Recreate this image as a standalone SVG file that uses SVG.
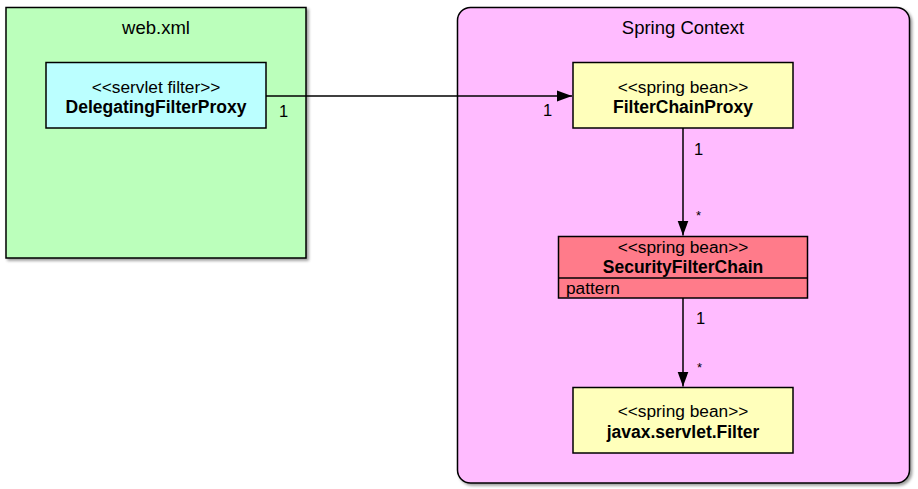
<svg xmlns="http://www.w3.org/2000/svg" width="918" height="489" viewBox="0 0 918 489">
<style>
text{font-family:"Liberation Sans",Arial,sans-serif;fill:#000}
.title{font-size:18.5px;text-anchor:middle}
.st{font-size:17.3px;text-anchor:middle}
.nm{font-size:17.5px;font-weight:bold;text-anchor:middle}
.lbl{font-size:16.5px}
.star{font-size:13px}
.box{stroke:#000;stroke-width:1.5}
.edge{stroke:#000;stroke-width:1.5;fill:none}
</style>
<defs>
<filter id="sh" x="-5%" y="-5%" width="115%" height="115%">
<feGaussianBlur in="SourceAlpha" stdDeviation="1.5"/>
<feOffset dx="1.5" dy="2" result="b"/>
<feComponentTransfer><feFuncA type="linear" slope="0.4"/></feComponentTransfer>
<feMerge><feMergeNode/><feMergeNode in="SourceGraphic"/></feMerge>
</filter>
<marker id="arr" viewBox="0 0 15 12" refX="15" refY="6" markerWidth="15" markerHeight="12" markerUnits="userSpaceOnUse" orient="auto">
<path d="M0,0.5 L15,6 L0,11.5 Z" fill="#000"/>
</marker>
</defs>
<g id="webxml">
<rect class="box" x="6" y="7.5" width="300" height="250.5" fill="#bbffbb" filter="url(#sh)"/>
<text class="title" x="156" y="34">web.xml</text>
</g>
<g id="springcontext">
<rect class="box" x="457.5" y="7.5" width="452" height="475.5" rx="13" fill="#ffbbff" filter="url(#sh)"/>
<text class="title" x="683" y="34">Spring Context</text>
</g>
<g id="delegatingfilterproxy">
<rect class="box" x="46" y="62.5" width="220" height="65.5" fill="#bbffff"/>
<text class="st" x="156" y="93">&lt;&lt;servlet filter&gt;&gt;</text>
<text class="nm" x="156" y="113">DelegatingFilterProxy</text>
</g>
<g id="filterchainproxy">
<rect class="box" x="573" y="62.5" width="220" height="65.5" fill="#ffffbb"/>
<text class="st" x="683" y="93">&lt;&lt;spring bean&gt;&gt;</text>
<text class="nm" x="683" y="113">FilterChainProxy</text>
</g>
<g id="securityfilterchain">
<rect class="box" x="558.5" y="236.5" width="249" height="61.5" fill="#ff7b8a"/>
<line class="box" x1="558.5" y1="278" x2="807.5" y2="278"/>
<text class="st" x="683" y="252.5">&lt;&lt;spring bean&gt;&gt;</text>
<text class="nm" x="683" y="273">SecurityFilterChain</text>
<text class="st" x="566" y="294" style="text-anchor:start">pattern</text>
</g>
<g id="javaxservletfilter">
<rect class="box" x="573" y="387.5" width="220" height="65.5" fill="#ffffbb"/>
<text class="st" x="683" y="417">&lt;&lt;spring bean&gt;&gt;</text>
<text class="nm" x="683" y="437.5">javax.servlet.Filter</text>
</g>
<g id="connectors">
<line class="edge" x1="266" y1="96" x2="572" y2="96" marker-end="url(#arr)"/>
<line class="edge" x1="683" y1="128" x2="683" y2="235.5" marker-end="url(#arr)"/>
<line class="edge" x1="683" y1="298" x2="683" y2="386.5" marker-end="url(#arr)"/>
<text class="lbl" x="279" y="117">1</text>
<text class="lbl" x="543" y="116">1</text>
<text class="lbl" x="694" y="155">1</text>
<text class="star" x="696" y="220">*</text>
<text class="lbl" x="696" y="324">1</text>
<text class="star" x="697" y="372">*</text>
</g>
</svg>
